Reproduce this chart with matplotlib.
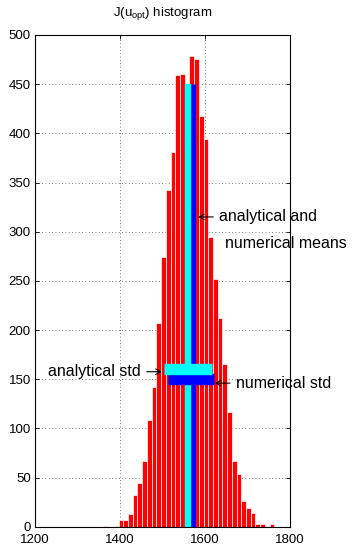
import matplotlib
matplotlib.use('Agg')
import matplotlib.pyplot as plt

plt.rcParams['font.family'] = ['Liberation Sans', 'DejaVu Sans']
plt.rcParams['mathtext.default'] = 'regular'

# histogram bins
bin_width = 11.1
bin_centers = [1369.0, 1380.1, 1391.2, 1402.3, 1413.4, 1424.5, 1435.6, 1446.7,
               1457.8, 1468.9, 1480.0, 1491.1, 1502.2, 1513.3, 1524.4, 1535.5,
               1546.6, 1557.7, 1568.8, 1579.9, 1591.0, 1602.1, 1613.2, 1624.3,
               1635.4, 1646.5, 1657.6, 1668.7, 1679.8, 1690.9, 1702.0, 1713.1,
               1724.2, 1735.3, 1746.4, 1757.5]
counts = [1, 0, 1, 7, 7, 13, 32, 44, 67, 109, 142, 207, 274, 342, 381, 459,
          460, 440, 479, 476, 418, 394, 295, 252, 212, 165, 117, 67, 54, 26,
          19, 14, 3, 3, 1, 3]

# means and standard deviations
mean_analytical = 1560
std_analytical = 57
mean_numerical = 1566
std_numerical = 54
mean_top = 450
std_level_analytical = 160
std_level_numerical = 150

fig = plt.figure(figsize=(3.52, 5.46), dpi=100)
ax = fig.add_axes([0.0994, 0.0353, 0.7245, 0.9006])

ax.bar(bin_centers, counts, width=bin_width, color='red', edgecolor='white',
       linewidth=0.5, zorder=1)

# mean lines
ax.plot([mean_numerical, mean_numerical], [0, mean_top], color='blue',
        lw=6.4, solid_capstyle='butt', zorder=2)
ax.plot([mean_analytical, mean_analytical], [0, mean_top], color='cyan',
        lw=4.6, solid_capstyle='butt', zorder=2)
# std bars
ax.plot([mean_numerical - std_numerical, mean_numerical + std_numerical],
        [std_level_numerical, std_level_numerical], color='blue', lw=8.2,
        solid_capstyle='butt', zorder=2)
ax.plot([mean_analytical - std_analytical, mean_analytical + std_analytical],
        [std_level_analytical, std_level_analytical], color='cyan', lw=8.2,
        solid_capstyle='butt', zorder=2)

# labels with little arrows
arrow = dict(arrowstyle='->,head_length=0.35,head_width=0.2', lw=0.8,
             color='black', shrinkA=0, shrinkB=0)
ax.annotate('', xy=(1498, 157.6), xytext=(1463, 157.6), arrowprops=arrow)
ax.text(1449, 157.6, 'analytical std', ha='right', va='center',
        fontsize=11.5, zorder=2)
ax.annotate('', xy=(1623.5, 146), xytext=(1659, 146), arrowprops=arrow)
ax.text(1673, 146, 'numerical std', ha='left', va='center',
        fontsize=11.5, zorder=2)
ax.annotate('', xy=(1584, 315), xytext=(1619.5, 315), arrowprops=arrow)
ax.text(1633.5, 315, 'analytical and', ha='left', va='center',
        fontsize=11.5, zorder=2)
ax.text(1647, 288, 'numerical means', ha='left', va='center',
        fontsize=11.5, zorder=2)

ax.set_xlim(1200, 1800)
ax.set_ylim(0, 500)
ax.set_xticks([1200, 1400, 1600, 1800])
ax.set_yticks(range(0, 501, 50))
ax.set_axisbelow(True)
ax.grid(True, linestyle=(0, (1, 3)), color='0.3', linewidth=0.6)
ax.tick_params(direction='in', top=True, right=True, length=3, width=0.6,
               labelsize=9.5, pad=3)
ax.tick_params(axis='x', pad=5)
for s in ax.spines.values():
    s.set_linewidth(0.8)

ax.set_title('J(u$_{opt}$) histogram', fontsize=9.5, pad=14)

fig.savefig('out.png', dpi=100)
